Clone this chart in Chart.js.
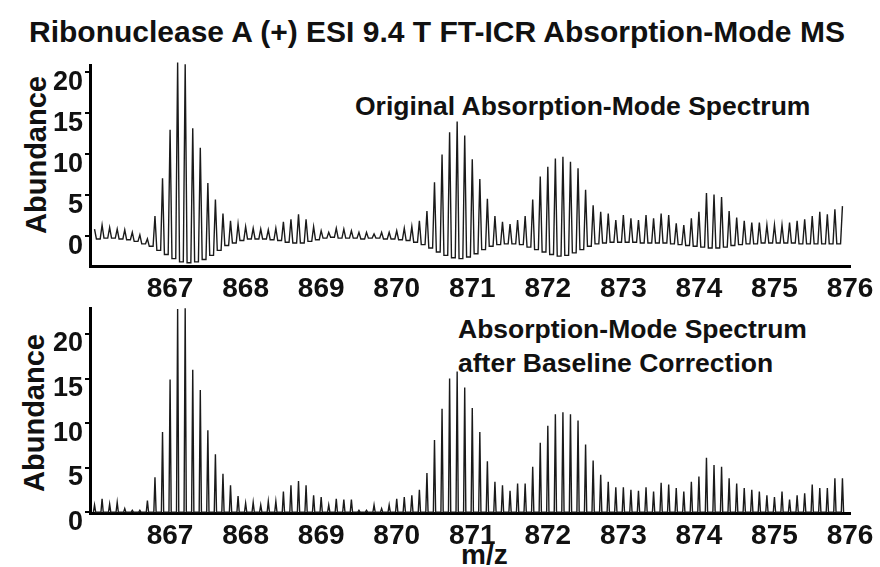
<!DOCTYPE html>
<html>
<head>
<meta charset="utf-8">
<title>Ribonuclease A absorption-mode spectrum</title>
<script src="https://cdn.jsdelivr.net/npm/chart.js@4.4.0/dist/chart.umd.min.js"></script>
<style>
    body { margin: 0; background: #fff; }
    #wrap {
        position: relative; width: 880px; height: 567px; overflow: hidden;
        font-family: "Liberation Sans", Arial, sans-serif; font-weight: bold; color: #111;
    }
    #wrap canvas { position: absolute; left: 0; }
    .txt { position: absolute; white-space: nowrap; line-height: 1; }
    .ylab { position: absolute; white-space: nowrap; line-height: 1; transform: translate(-50%, -50%) rotate(-90deg); }
</style>
</head>
<body>
<div id="wrap">
    <div class="txt" style="left:29px; top:17px; font-size:30px;">Ribonuclease A (+) ESI 9.4 T FT-ICR Absorption-Mode MS</div>
    <div class="txt" style="left:355px; top:93px; font-size:26.5px;">Original Absorption-Mode Spectrum</div>
    <div class="txt" style="left:458px; top:316px; font-size:26.5px;">Absorption-Mode Spectrum</div>
    <div class="txt" style="left:458px; top:350px; font-size:26.5px;">after Baseline Correction</div>
    <div class="txt" style="left:461px; top:541px; font-size:28px;">m/z</div>
    <div class="ylab" style="left:36px; top:155px; font-size:29px;">Abundance</div>
    <div class="ylab" style="left:34px; top:413px; font-size:29px;">Abundance</div>
    <canvas id="topChart" width="880" height="310" style="top:0;"></canvas>
    <canvas id="bottomChart" width="880" height="277" style="top:290px;"></canvas>
</div>
<script>
// isotope peaks, one every 0.1 m/z starting at 866.0
const mzStart = 866.0;
const mzStep = 0.1;

const xTicks = [867, 868, 869, 870, 871, 872, 873, 874, 875, 876];
const yTicks = [0, 5, 10, 15, 20];

// original absorption-mode spectrum: peak maxima and the dips between neighbours
const topPeaks = [
    0.9, 1.4, 1.1, 0.9, 0.8, 0.5, 0.2, -0.3, 2.5, 7.1,
    13.0, 21.2, 21.0, 13.2, 10.8, 6.5, 4.5, 2.8, 1.9, 1.5,
    1.2, 1.0, 0.9, 0.8, 1.0, 1.8, 2.1, 2.7, 2.1, 1.2,
    0.7, 0.5, 1.0, 0.9, 0.7, 0.5, 0.5, 0.3, 0.5, 0.5,
    0.7, 1.0, 1.2, 1.9, 3.1, 6.6, 10.0, 12.7, 14.0, 12.3,
    9.4, 7.0, 4.6, 2.5, 1.8, 1.5, 2.0, 2.5, 4.5, 7.3,
    8.5, 9.5, 9.7, 9.1, 8.3, 5.7, 3.8, 3.0, 2.8, 2.0,
    2.6, 2.2, 2.0, 2.6, 2.2, 2.8, 2.6, 1.6, 1.4, 2.2,
    3.0, 5.3, 5.1, 4.8, 3.1, 2.3, 1.9, 1.7, 1.7, 1.4,
    1.4, 1.4, 1.7, 1.9, 2.1, 2.5, 3.0, 2.7, 3.3, 3.7
];
const topTroughs = [
    -0.3, -0.2, -0.2, -0.3, -0.4, -0.6, -0.9, -1.2, -1.7, -2.2,
    -2.7, -3.1, -3.2, -3.1, -2.8, -2.3, -1.7, -1.1, -0.8, -0.5,
    -0.3, -0.3, -0.3, -0.4, -0.5, -0.7, -0.8, -0.8, -0.6, -0.4,
    -0.2, -0.1, -0.2, -0.2, -0.2, -0.3, -0.2, -0.2, -0.3, -0.3,
    -0.4, -0.5, -0.7, -1.0, -1.4, -1.9, -2.3, -2.6, -2.7, -2.5,
    -2.1, -1.6, -1.2, -1.0, -0.9, -0.9, -1.0, -1.3, -1.6, -1.9,
    -2.2, -2.4, -2.3, -2.0, -1.6, -1.2, -0.9, -0.8, -0.7, -0.7,
    -0.7, -0.7, -0.8, -0.8, -0.8, -0.8, -0.9, -1.0, -1.1, -1.2,
    -1.3, -1.4, -1.4, -1.3, -1.1, -1.0, -0.9, -0.9, -0.8, -0.8,
    -0.8, -0.8, -0.8, -0.9, -0.9, -0.9, -0.9, -0.9, -0.9
];

// same spectrum after baseline correction
const bottomPeaks = [
    0.8, 1.5, 0.9, 1.1, 0.4, 0.2, 0.2, 1.3, 3.9, 9.0,
    14.9, 22.8, 22.9, 16.0, 13.7, 9.2, 6.5, 4.3, 3.0, 1.8,
    1.0, 1.1, 0.8, 1.2, 1.2, 2.3, 3.0, 3.5, 3.0, 1.9,
    1.7, 0.8, 1.5, 1.4, 1.4, 0.2, 0.2, 0.8, 0.4, 0.8,
    1.5, 1.7, 1.9, 2.5, 4.4, 8.1, 11.6, 15.0, 15.8, 14.0,
    11.7, 9.0, 5.7, 3.4, 3.0, 2.4, 3.2, 3.2, 5.1, 7.8,
    9.7, 11.0, 11.2, 11.0, 10.3, 7.6, 5.8, 4.2, 3.4, 2.8,
    2.8, 2.5, 2.4, 2.8, 2.3, 3.3, 3.1, 2.7, 2.3, 3.4,
    4.0, 6.1, 5.3, 5.1, 3.8, 3.2, 2.7, 2.5, 2.3, 1.9,
    1.7, 2.3, 1.4, 1.9, 2.1, 3.1, 2.7, 2.7, 3.8, 3.8
];

// half width of a peak at its foot, in m/z
const topHalfWidth = 0.025;
const bottomHalfWidth = 0.015;

const fontFamily = '"Liberation Sans", Arial, sans-serif';

function mzAt(k) {
    return mzStart + k * mzStep;
}

// narrow spikes rising out of the wavy, dipping baseline
let topTrace = [];
topPeaks.forEach(function (h, k) {
    if (k > 0)
        topTrace.push({x: mzAt(k) - topHalfWidth, y: topTroughs[k - 1]});
    topTrace.push({x: mzAt(k), y: h});
    if (k < topTroughs.length)
        topTrace.push({x: mzAt(k) + topHalfWidth, y: topTroughs[k]});
});

// sticks sitting on a flat zero baseline
let bottomTrace = [];
bottomPeaks.forEach(function (h, k) {
    bottomTrace.push({x: mzAt(k) - bottomHalfWidth, y: 0});
    bottomTrace.push({x: mzAt(k), y: h});
    bottomTrace.push({x: mzAt(k) + bottomHalfWidth, y: 0});
});

function makeChart(canvasId, trace, yMin, yMax, padTop, xAxisHeight) {
    let ctx = document.getElementById(canvasId).getContext('2d');
    return new Chart(ctx, {
        type: 'line',
        data: {
            datasets: [{
                data: trace,
                borderColor: '#1a1a1a',
                borderWidth: 1.4,
                pointRadius: 0,
                tension: 0,
                fill: false,
                clip: false
            }]
        },
        options: {
            responsive: false,
            animation: false,
            devicePixelRatio: 1,
            layout: {
                padding: {top: padTop, right: 30, bottom: 0, left: 0}
            },
            plugins: {
                legend: {display: false},
                tooltip: {enabled: false}
            },
            scales: {
                x: {
                    type: 'linear',
                    min: 865.94,
                    max: 876,
                    afterBuildTicks: function (scale) {
                        scale.ticks = xTicks.map(v => ({value: v}));
                    },
                    afterFit: function (scale) {
                        scale.height = xAxisHeight;
                    },
                    grid: {display: false, drawTicks: false, tickLength: 0},
                    border: {display: true, color: '#000', width: 3},
                    ticks: {
                        padding: 6,
                        maxRotation: 0,
                        autoSkip: false,
                        color: '#111',
                        font: {family: fontFamily, size: 28, weight: 'bold'},
                        callback: v => String(v)
                    }
                },
                y: {
                    type: 'linear',
                    min: yMin,
                    max: yMax,
                    afterBuildTicks: function (scale) {
                        scale.ticks = yTicks.map(v => ({value: v}));
                    },
                    afterFit: function (scale) {
                        scale.width = 90;
                    },
                    grid: {
                        display: true,
                        drawOnChartArea: false,
                        drawTicks: true,
                        tickLength: 5,
                        color: '#000',
                        lineWidth: 2
                    },
                    border: {display: true, color: '#000', width: 3},
                    ticks: {
                        padding: 2,
                        labelOffset: 10,
                        color: '#111',
                        font: {family: fontFamily, size: 27, weight: 'bold'},
                        callback: v => String(v)
                    }
                }
            }
        }
    });
}

makeChart('topChart', topTrace, -3.6, 20.9, 65, 44);
makeChart('bottomChart', bottomTrace, -0.1, 22.9, 17, 54);
</script>
</body>
</html>
